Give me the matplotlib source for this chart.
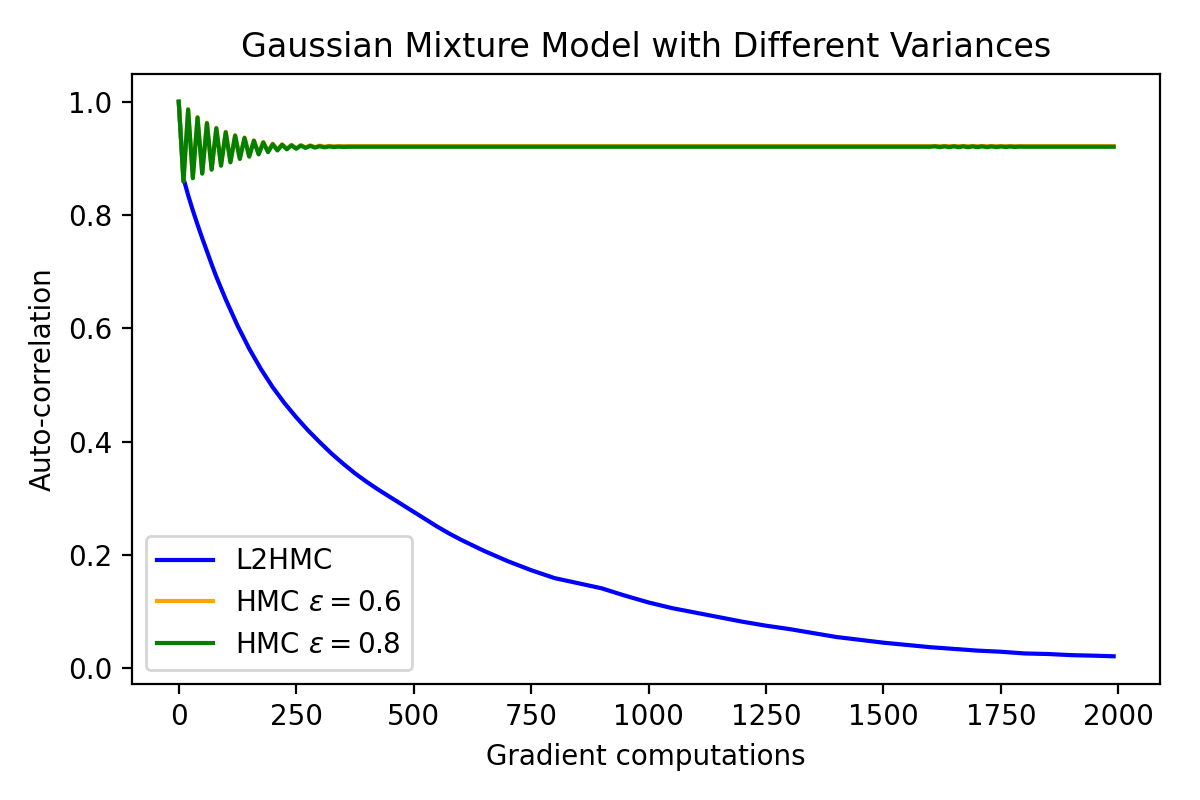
import matplotlib
matplotlib.use("Agg")
import matplotlib.pyplot as plt

# L2HMC auto-correlation
l2hmc_x = [0, 10, 20, 30, 40, 50, 60, 70, 80, 90, 100, 125, 150, 175, 200, 225, 250,
           275, 300, 325, 350, 375, 400, 425, 450, 475, 500, 525, 550, 575, 600, 625,
           650, 675, 700, 725, 750, 775, 800, 850, 900, 950, 1000,
           1050, 1100, 1150, 1200, 1250, 1300, 1350, 1400, 1450, 1500, 1550, 1600,
           1650, 1700, 1750, 1800, 1850, 1900, 1950, 1990]
l2hmc_y = [1.000, 0.865, 0.835, 0.808, 0.783, 0.759, 0.736, 0.713, 0.691, 0.671, 0.651,
           0.605, 0.564, 0.528, 0.496, 0.468, 0.443, 0.420, 0.399, 0.379, 0.361, 0.344,
           0.329, 0.315, 0.302, 0.289, 0.276, 0.263, 0.250, 0.238, 0.227, 0.217, 0.207,
           0.198, 0.189, 0.181, 0.173, 0.166, 0.159, 0.150, 0.141, 0.128, 0.116,
           0.106, 0.098, 0.090, 0.082, 0.075, 0.069, 0.062, 0.055, 0.050, 0.045, 0.041,
           0.037, 0.034, 0.031, 0.029, 0.026, 0.025, 0.023, 0.022, 0.021]

# HMC eps=0.8 (green)
hmc08_x = [0, 10, 20, 30, 40, 50, 60, 70, 80, 90, 100, 110, 120, 130, 140, 150, 160,
           170, 180, 190, 200, 210, 220, 230, 240, 250, 260, 270, 280, 290, 300, 310,
           320, 330, 340, 350, 360, 500, 1000, 1600, 1610, 1620, 1630, 1640, 1650,
           1660, 1670, 1680, 1690, 1700, 1710, 1720, 1730, 1740, 1750, 1760, 1770,
           1780, 1790, 1800, 1990]
hmc08_y = [1.000, 0.859, 0.986, 0.865, 0.972, 0.873, 0.962, 0.880, 0.953, 0.887, 0.946,
           0.893, 0.940, 0.899, 0.936, 0.903, 0.931, 0.907, 0.928, 0.911, 0.925, 0.914,
           0.924, 0.916, 0.923, 0.917, 0.9225, 0.9185, 0.922, 0.919, 0.9215, 0.9195,
           0.921, 0.920, 0.9208, 0.9202, 0.9205, 0.9205, 0.9205, 0.9205, 0.9212,
           0.9198, 0.9212, 0.9198, 0.9213, 0.9197, 0.9213, 0.9197, 0.9212, 0.9198,
           0.9212, 0.9198, 0.9211, 0.9199, 0.9210, 0.9200, 0.9209, 0.9201, 0.9207,
           0.9205, 0.9205]

# HMC eps=0.6 (orange, mostly hidden behind green)
hmc06_x = [0, 10, 20, 30, 40, 50, 60, 70, 80, 90, 100, 110, 120, 130, 140, 150, 160,
           170, 180, 190, 200, 210, 220, 230, 240, 250, 260, 270, 280, 290, 300, 310,
           320, 330, 360, 1000, 1990]
hmc06_y = [1.000, 0.860, 0.987, 0.866, 0.973, 0.874, 0.963, 0.881, 0.954, 0.888, 0.947,
           0.894, 0.941, 0.900, 0.937, 0.904, 0.932, 0.908, 0.929, 0.912, 0.926, 0.915,
           0.925, 0.917, 0.924, 0.918, 0.9235, 0.9195, 0.923, 0.920, 0.9225, 0.9208,
           0.922, 0.9214, 0.9218, 0.9218, 0.9218]

fig, ax = plt.subplots(figsize=(6, 4), dpi=200)
fig.subplots_adjust(left=0.11, right=0.967, top=0.9075, bottom=0.145)

ax.plot(l2hmc_x, l2hmc_y, color="blue", label="L2HMC")
ax.plot(hmc06_x, hmc06_y, color="orange", label=r"HMC $\epsilon=0.6$")
ax.plot(hmc08_x, hmc08_y, color="green", label=r"HMC $\epsilon=0.8$")

ax.set_title("Gaussian Mixture Model with Different Variances")
ax.set_xlabel("Gradient computations")
ax.set_ylabel("Auto-correlation")
ax.legend(loc="lower left")

fig.savefig("out.png", dpi=200)
